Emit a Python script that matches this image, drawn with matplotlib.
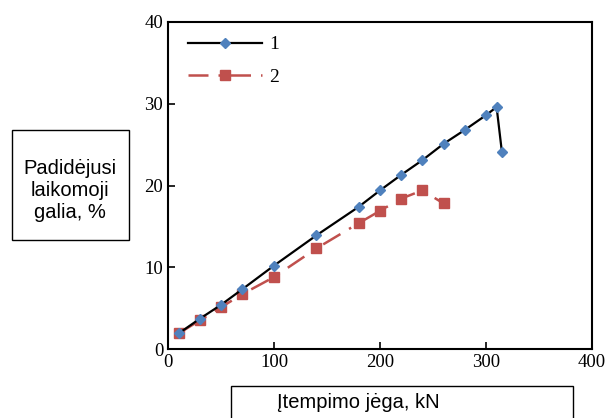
import matplotlib
matplotlib.use("Agg")
import matplotlib.pyplot as plt
from matplotlib.patches import Rectangle

# load (kN) vs increased bearing capacity (%)
force_1 = [10, 30, 50, 70, 100, 140, 180, 200, 220, 240, 260, 280, 300, 310, 315]
gain_1 = [1.9, 3.7, 5.4, 7.3, 10.2, 13.9, 17.4, 19.4, 21.3, 23.1, 25.1, 26.8, 28.6, 29.6, 24.1]

force_2 = [10, 30, 50, 70, 100, 140, 180, 200, 220, 240, 260]
gain_2 = [1.9, 3.5, 5.1, 6.7, 8.8, 12.3, 15.4, 16.9, 18.4, 19.4, 17.8]

x_ticks = [0, 100, 200, 300, 400]
y_ticks = [0, 10, 20, 30, 40]

W, H = 613, 418
fig = plt.figure(figsize=(W / 100, H / 100), dpi=100)
ax = fig.add_axes([168 / W, 1 - 349 / H, (592 - 168) / W, (349 - 22) / H])

ax.plot(force_1, gain_1, color="black", lw=1.6, marker="D", ms=5,
        mfc="#4F81BD", mec="#4F81BD", label="1", zorder=3)
ax.plot(force_2, gain_2, color="#C0504D", lw=1.8, ls=(0, (8, 4, 1, 4)),
        marker="s", ms=7, mfc="#C0504D", mec="#C0504D", label="2", zorder=2)

ax.set_xlim(0, 400)
ax.set_ylim(0, 40)
ax.set_xticks(x_ticks)
ax.set_yticks(y_ticks)
ax.tick_params(direction="in", length=5, width=1.2, labelsize=13.5,
               top=False, right=False)
for lab in ax.get_xticklabels() + ax.get_yticklabels():
    lab.set_fontfamily("Liberation Serif")
for s in ax.spines.values():
    s.set_linewidth(1.5)

leg = ax.legend(loc="upper left", bbox_to_anchor=(0.047, 0.958), frameon=False,
                handlelength=3.8, borderaxespad=0, borderpad=0,
                labelspacing=0.75, handletextpad=0.4,
                prop={"family": "Liberation Serif", "size": 14})

# boxed axis captions
def boxed(x0, y0, x1, y1):
    fig.patches.append(Rectangle((x0 / W, 1 - y1 / H), (x1 - x0) / W, (y1 - y0) / H,
                                 transform=fig.transFigure, fill=False,
                                 ec="black", lw=1.0))

boxed(12, 130, 129, 240)
fig.text(70 / W, 1 - 191 / H, "Padidėjusi\nlaikomoji\ngalia, %", ha="center",
         va="center", fontsize=14.5, family="Liberation Sans", linespacing=1.2)

boxed(231, 386, 573, 420)
fig.text(358 / W, 1 - 403 / H, "Įtempimo jėga, kN", ha="center", va="center",
         fontsize=14.5, family="Liberation Sans")

fig.savefig("out.png", dpi=100)
